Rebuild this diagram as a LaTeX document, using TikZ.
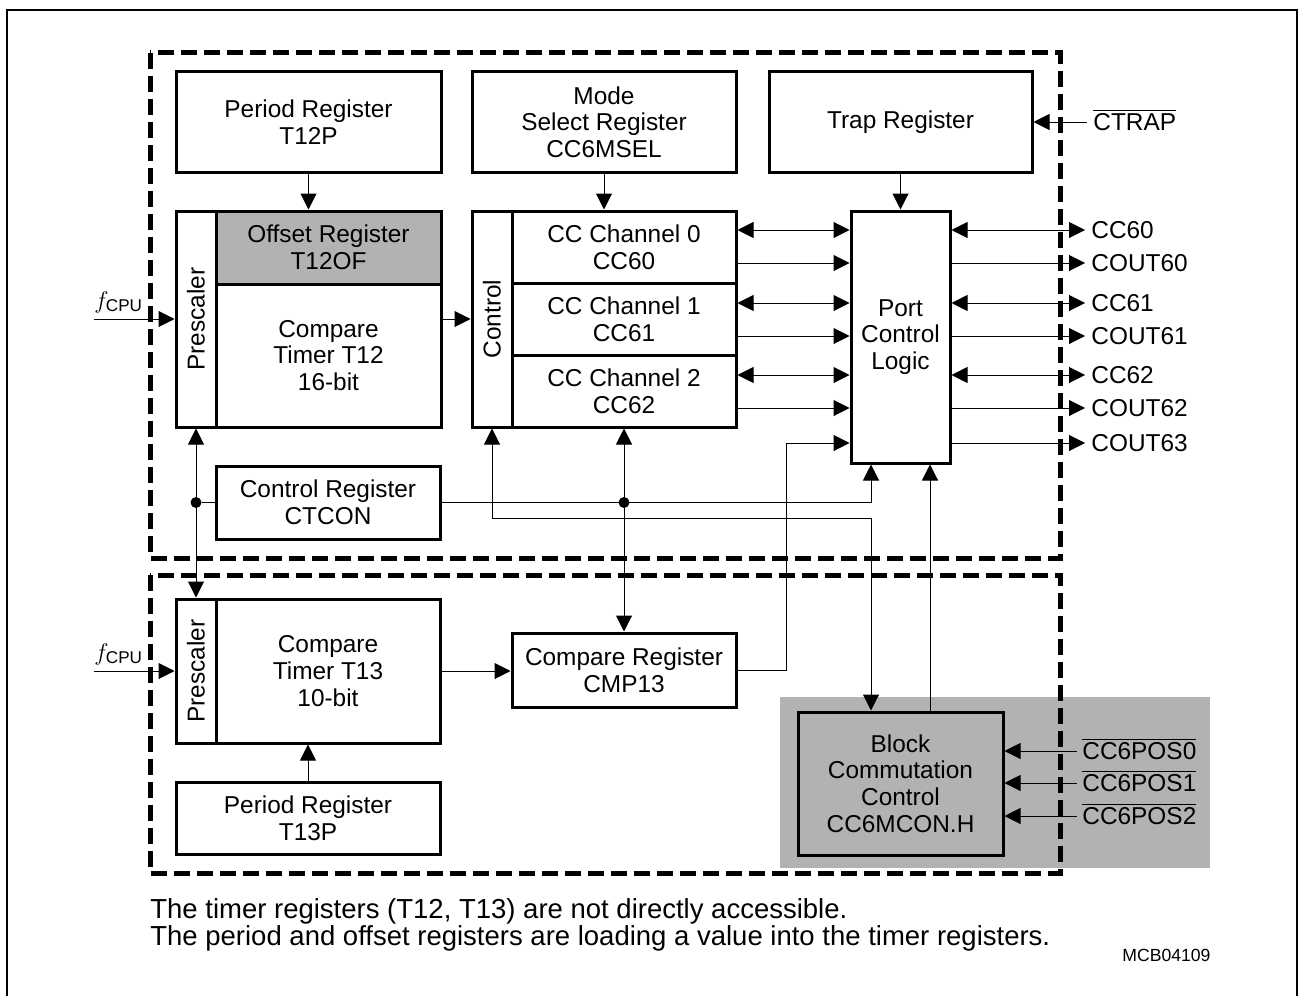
\documentclass[tikz,border=0pt]{standalone}
\usepackage{amsmath}
\usepackage{fontspec}
\setmainfont{Liberation Sans}
\usetikzlibrary{arrows.meta,calc}
\definecolor{boxgray}{RGB}{178,178,178}

\begin{document}
\begin{tikzpicture}[x=0.5pt,y=-0.5pt,
  font=\fontsize{12.2}{13.35}\selectfont,
  reg/.style={draw,line width=1.5pt,align=center,inner sep=0pt},
  wire/.style={line width=0.5pt},
  sig/.style={wire,-{Triangle[length=8pt,width=8pt]}},
  bisig/.style={wire,{Triangle[length=8pt,width=8pt]}-{Triangle[length=8pt,width=8pt]}},
  pin/.style={anchor=west,inner sep=3pt,text height=8.6pt,text depth=0pt},
  unit/.style={line width=2.5pt,dash pattern=on 8pt off 3.5pt},
  dot/.style={circle,fill,inner sep=0pt,minimum size=5.5pt}]
\useasboundingbox (0,0) rectangle (1299,995);
%% frame and the two dashed units
\draw[line width=1.25pt] (7,1000) -- (7,10) -- (1297,10) -- (1297,1000);
\fill[boxgray] (780,697) rectangle (1210,868);
\draw[unit] (150,53) rectangle (1060,558);
\draw[unit] (150,575) rectangle (1060,873);

%% top row of registers
\node[reg,minimum width=132.5pt,minimum height=50pt] (t12p) at (308.5,122) {Period Register\\T12P};
\node[reg,minimum width=132pt,minimum height=50pt] (msel) at (604,122) {Mode\\Select Register\\CC6MSEL};
\node[reg,minimum width=131.5pt,minimum height=50pt] (trap) at (900.5,122) {Trap Register};
\node[pin] (ctrap) at (1087,122) {$\overline{\mbox{CTRAP}}$};

%% timer T12 with prescaler and offset register
\node[reg,minimum width=20pt,minimum height=108pt,label={[rotate=90]center:Prescaler}] (pre12) at (196,319) {};
\node[reg,fill=boxgray,minimum width=112.5pt,minimum height=36.5pt] (t12of) at (328.5,247.5) {Offset Register\\T12OF};
\node[reg,minimum width=112.5pt,minimum height=71.5pt] (t12) at (328.5,355.5) {Compare\\Timer T12\\16-bit};
\node[anchor=base west,inner sep=0pt] (fcpu12) at (94,308) {$f_{\text{CPU}}$};

%% capture/compare channels
\node[reg,minimum width=20pt,minimum height=108pt,label={[rotate=90]center:Control}] (ctrl) at (492,319) {};
\node[reg,minimum width=112pt,minimum height=36pt] (ch0) at (624,247) {CC Channel 0\\CC60};
\node[reg,minimum width=112pt,minimum height=36pt] (ch1) at (624,319) {CC Channel 1\\CC61};
\node[reg,minimum width=112pt,minimum height=36pt] (ch2) at (624,391) {CC Channel 2\\CC62};

%% port control and its pins
\node[reg,minimum width=49.5pt,minimum height=126pt] (port) at (900.5,337) {Port\\Control\\Logic};
\node[pin] (cc60) at (1085,230) {CC60};
\node[pin] (cout60) at (1085,263) {COUT60};
\node[pin] (cc61) at (1085,303) {CC61};
\node[pin] (cout61) at (1085,336) {COUT61};
\node[pin] (cc62) at (1085,375) {CC62};
\node[pin] (cout62) at (1085,408) {COUT62};
\node[pin] (cout63) at (1085,443) {COUT63};

\node[reg,minimum width=112pt,minimum height=36.5pt] (ctcon) at (328,502.5) {Control Register\\CTCON};

%% timer T13 unit
\node[reg,minimum width=20pt,minimum height=72pt,label={[rotate=90]center:Prescaler}] (pre13) at (196,671) {};
\node[reg,minimum width=112pt,minimum height=72pt] (t13) at (328,671) {Compare\\Timer T13\\10-bit};
\node[reg,minimum width=132pt,minimum height=36pt] (t13p) at (308,818) {Period Register\\T13P};
\node[reg,minimum width=112pt,minimum height=37pt] (cmp13) at (624,670) {Compare Register\\CMP13};
\node[anchor=base west,inner sep=0pt] (fcpu13) at (94,660) {$f_{\text{CPU}}$};

%% block commutation
\node[reg,fill=boxgray,minimum width=102.5pt,minimum height=71.5pt] (bcc) at (900.5,783.5) {Block\\Commutation\\Control\\CC6MCON.H};
\node[pin,inner sep=2.5pt] (pos0) at (1077,751) {$\overline{\mbox{CC6POS0}}$};
\node[pin,inner sep=2.5pt] (pos1) at (1077,783) {$\overline{\mbox{CC6POS1}}$};
\node[pin,inner sep=2.5pt] (pos2) at (1077,816) {$\overline{\mbox{CC6POS2}}$};

%% connections
\draw[sig] (t12p.south) -- (t12p.south |- t12of.north);
\draw[sig] (msel.south) -- (msel.south |- ch0.north);
\draw[sig] (trap.south) -- (port.north);
\draw[sig] (ctrap.west) -- (trap.east |- ctrap.west);
\draw[sig] (fcpu12.base west |- pre12.west) -- (pre12.west);
\draw[sig] (t12.east |- ctrl.west) -- (ctrl.west);
\foreach \ch/\bi/\out in {ch0/cc60/cout60,ch1/cc61/cout61,ch2/cc62/cout62} {
  \draw[bisig] (\ch.east |- \bi.west) -- (port.west |- \bi.west);
  \draw[sig] (\ch.east |- \out.west) -- (port.west |- \out.west);
  \draw[bisig] (port.east |- \bi.west) -- (\bi.west);
  \draw[sig] (port.east |- \out.west) -- (\out.west);
}
\draw[sig] (port.east |- cout63.west) -- (cout63.west);

\draw[bisig] (pre12.south) -- (pre13.north);
\node[dot] (j1) at (pre12.south |- ctcon.west) {};
\draw[wire] (j1) -- (ctcon.west);
\coordinate (pin1) at ([xshift=-14.75pt]port.south);
\draw[sig] (ctcon.east) -| (pin1);
\node[dot] (j2) at (ch2.south |- ctcon.east) {};
\draw[bisig] (ch2.south) -- (cmp13.north);
\coordinate (ctrlbus) at (871,518);
\coordinate (bcc1) at ([xshift=-14.75pt]bcc.north);
\draw[bisig] (ctrl.south) |- (ctrlbus) -- (bcc1);
\coordinate (cmpbus) at (786,443);
\draw[sig] (cmp13.east) -| (cmpbus) -- (port.west |- cmpbus);
\draw[sig] ([xshift=14.75pt]bcc.north) -- ([xshift=14.75pt]port.south);

\draw[sig] (fcpu13.base west |- pre13.west) -- (pre13.west);
\draw[sig] (t13p.north) -- (t13p.north |- t13.south);
\draw[sig] (t13.east) -- (cmp13.west |- t13.east);
\foreach \p in {pos0,pos1,pos2}
  \draw[sig] (\p.west) -- (bcc.east |- \p.west);

%% notes
\node[anchor=base west,inner sep=0pt,font=\fontsize{13.75}{14}\selectfont] (note1) at (150,918) {The timer registers (T12, T13) are not directly accessible.};
\node[anchor=base west,inner sep=0pt,font=\fontsize{13.75}{14}\selectfont] (note2) at (150,945) {The period and offset registers are loading a value into the timer registers.};
\node[anchor=base west,inner sep=0pt,font=\fontsize{8.8}{10}\selectfont] (mcb) at (1122,961) {MCB04109};
\end{tikzpicture}
\end{document}
